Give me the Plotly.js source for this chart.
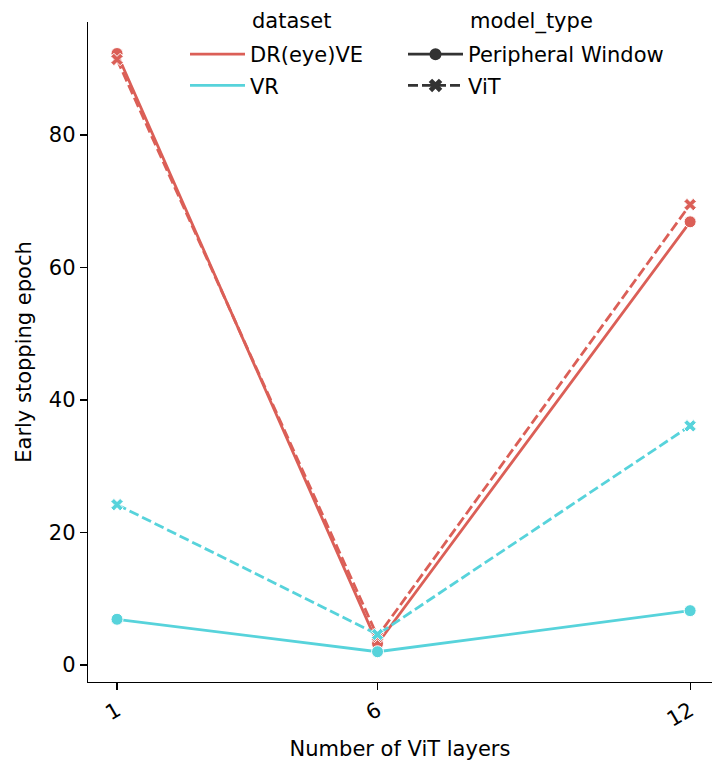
<!DOCTYPE html>
<html>
<head>
<meta charset="utf-8">
<script src="https://cdn.plot.ly/plotly-3.0.1.min.js"></script>
<style>html,body{margin:0;padding:0;background:#fff;}#chart{width:712px;height:765px;}</style>
</head>
<body>
<div id="chart"></div>
<script>
const layers = [1, 6, 12];
const drPeripheral = [92.3, 3.2, 66.9];
const drViT = [91.4, 4.3, 69.5];
const vrPeripheral = [6.9, 2.0, 8.2];
const vrViT = [24.2, 4.6, 36.1];

const RED = '#db5f57';
const CYAN = '#57d3db';
const DARK = '#333333';

function series(y, color, isViT) {
  return {
    x: layers, y: y, type: 'scatter', mode: 'lines+markers', showlegend: false,
    line: {color: color, width: 2.8, dash: isViT ? '10px,4px' : 'solid'},
    marker: isViT
      ? {symbol: 'x', size: 11, color: color, line: {color: '#ffffff', width: 1}}
      : {symbol: 'circle', size: 12, color: color, line: {color: '#ffffff', width: 1}},
    hoverinfo: 'skip'
  };
}

const data = [
  series(drPeripheral, RED, false),
  series(drViT, RED, true),
  series(vrPeripheral, CYAN, false),
  series(vrViT, CYAN, true),
  {x: [null], y: [null], type: 'scatter', mode: 'lines', name: 'DR(eye)VE', legend: 'legend', legendgroup: 'a',
   line: {color: RED, width: 2.8}},
  {x: [null], y: [null], type: 'scatter', mode: 'lines', name: 'VR', legend: 'legend', legendgroup: 'b',
   line: {color: CYAN, width: 2.8}},
  {x: [null], y: [null], type: 'scatter', mode: 'lines+markers', name: 'Peripheral Window', legend: 'legend2', legendgroup: 'c',
   line: {color: DARK, width: 2.8}, marker: {symbol: 'circle', size: 12, color: DARK}},
  {x: [null], y: [null], type: 'scatter', mode: 'lines+markers', name: 'ViT', legend: 'legend2', legendgroup: 'd',
   line: {color: DARK, width: 2.8, dash: '10px,4px'}, marker: {symbol: 'x', size: 12, color: DARK}}
];

const FONT = 'DejaVu Sans';
const FS = 21;
const layout = {
  width: 712, height: 765,
  margin: {l: 88, r: 0, t: 22, b: 83},
  paper_bgcolor: '#fff', plot_bgcolor: '#fff',
  font: {family: FONT, size: FS, color: '#000'},
  xaxis: {
    range: [0.443, 12.42], tickmode: 'array', tickvals: layers, ticktext: layers.map(String),
    tickangle: -30, showgrid: false, zeroline: false, showline: true, linecolor: '#000', linewidth: 1.2,
    ticks: 'outside', ticklen: 7, tickwidth: 1.2, tickcolor: '#000',
    tickfont: {family: FONT, size: FS, color: '#000'},
    title: {text: 'Number of ViT layers', font: {family: FONT, size: FS, color: '#000'}, standoff: 10}
  },
  yaxis: {
    range: [-2.57, 97.06], tickvals: [0, 20, 40, 60, 80], showgrid: false, zeroline: false,
    showline: true, linecolor: '#000', linewidth: 1.2,
    ticks: 'outside', ticklen: 7, tickwidth: 1.2, tickcolor: '#000',
    tickfont: {family: FONT, size: FS, color: '#000'},
    title: {text: 'Early stopping epoch', font: {family: FONT, size: FS, color: '#000'}, standoff: 11}
  },
  legend: {
    x: (185 - 88) / 624, y: (682 - 34) / 660, xanchor: 'left', yanchor: 'top',
    bgcolor: 'rgba(0,0,0,0)', font: {family: FONT, size: FS, color: '#000'},
    tracegroupgap: 1, itemwidth: 55
  },
  legend2: {
    x: (403 - 88) / 624, y: (682 - 34) / 660, xanchor: 'left', yanchor: 'top',
    bgcolor: 'rgba(0,0,0,0)', font: {family: FONT, size: FS, color: '#000'},
    tracegroupgap: 1, itemwidth: 55
  },
  annotations: [
    {text: 'dataset', xref: 'paper', yref: 'paper', x: (250 - 88) / 624, y: (682 - 21) / 660,
     xanchor: 'left', yanchor: 'middle', showarrow: false, font: {family: FONT, size: FS, color: '#000'}},
    {text: 'model_type', xref: 'paper', yref: 'paper', x: (468 - 88) / 624, y: (682 - 21) / 660,
     xanchor: 'left', yanchor: 'middle', showarrow: false, font: {family: FONT, size: FS, color: '#000'}}
  ]
};

Plotly.newPlot('chart', data, layout, {displayModeBar: false, staticPlot: true});
</script>
</body>
</html>
